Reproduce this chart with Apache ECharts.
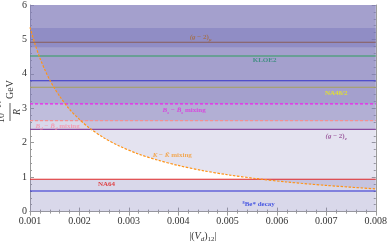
<!DOCTYPE html>
<html><head><meta charset="utf-8">
<script src="https://cdn.jsdelivr.net/npm/echarts@6.0.0/dist/echarts.min.js"></script>
<style>html,body{margin:0;padding:0;background:#fff}#c{width:390px;height:248px}</style>
</head><body><div id="c"></div>
<script>
// ---- data ----
const xRange = [0.001, 0.008];
const yRange = [0, 6];
// K - Kbar mixing boundary (upper limit curve)
const kMixX = [0.0010,0.0011,0.0012,0.0013,0.0014,0.0015,0.0016,0.0018,0.0020,0.0022,0.0025,0.0028,0.0032,0.0036,0.0040,0.0045,0.0050,0.0056,0.0062,0.0070,0.0080];
const kMixY = [5.35,4.87,4.46,4.12,3.82,3.57,3.35,2.97,2.68,2.43,2.14,1.91,1.67,1.49,1.34,1.19,1.07,0.955,0.86,0.76,0.66];
// horizontal constraint lines
const hLineKeys   = ['gm2mu','kloe2','blue','na48','bs','bd','gm2e','na64','be8'];
const hLineValues = [4.92, 4.52, 3.80, 3.61, 3.13, 2.64, 2.39, 0.94, 0.60];
// excluded regions (shaded): [from, to]
const excludedAbove = [2.39, 2.64, 3.13];   // (g-2)e, Bd mixing, Bs mixing
const excludedBelow = [0.94];               // NA64
const gm2muBand = [4.77, 5.33];

// ---- styles ----
const serif = '"Liberation Serif","DejaVu Serif",serif';
const lineStyles = {
  gm2mu:{color:'#8a5c58',width:1.1,type:'solid'},
  kloe2:{color:'#2e9e5e',width:1.1,type:'solid'},
  blue:{color:'#3434c8',width:1.1,type:'solid'},
  na48:{color:'#a9a25a',width:1.1,type:'solid'},
  bs:{color:'#f020f0',width:1.2,type:[3,2]},
  bd:{color:'#f59090',width:1.2,type:[3,2]},
  gm2e:{color:'#8a4aa0',width:1.3,type:'solid'},
  na64:{color:'#e02626',width:1.1,type:'solid'},
  be8:{color:'#2a2ad0',width:1.1,type:'solid'}
};
const shade = 'rgba(128,125,185,0.3)';

const labels = [
  {text:'{i|(g}{n| − 2)}{s|μ}', x:0.004454, y:5.07, color:'#a86a36'},
  {text:'{n|KLOE2}', x:0.00575, y:4.40, color:'#2a8a72'},
  {text:'{n|NA48/2}', x:0.0072, y:3.44, color:'#eeee10'},
  {text:'{i|B}{s|s}{n| − }{i|B\u0304}{s|s}{n| mixing}', x:0.00412, y:2.94, color:'#e030e0'},
  {text:'{i|B}{s|d}{n| − }{i|B\u0304}{s|d}{n| mixing}', x:0.00156, y:2.47, color:'#f890a8'},
  {text:'{i|(g}{n| − 2)}{s|e}', x:0.0072, y:2.19, color:'#8a3a8a'},
  {text:'{i|K}{n| − }{i|K\u0304}{n| mixing}', x:0.00388, y:1.64, color:'#f59a30'},
  {text:'{n|NA64}', x:0.00255, y:0.81, color:'#e01818'},
  {text:'{n|⁸Be* decay}', x:0.00563, y:0.22, color:'#2438e0'}
];

const rich = {
  n:{fontFamily:serif,fontWeight:'bold',fontSize:7,lineHeight:10,verticalAlign:'middle'},
  i:{fontFamily:serif,fontWeight:'bold',fontStyle:'italic',fontSize:7,lineHeight:10,verticalAlign:'middle'},
  s:{fontFamily:serif,fontWeight:'bold',fontStyle:'italic',fontSize:5,lineHeight:6,verticalAlign:'bottom'}
};

const series = [];
const areas = [];
excludedAbove.forEach(v=>areas.push([{yAxis:v,itemStyle:{color:shade}},{yAxis:yRange[1]}]));
excludedBelow.forEach(v=>areas.push([{yAxis:yRange[0],itemStyle:{color:shade}},{yAxis:v}]));
areas.push([{yAxis:gm2muBand[0],itemStyle:{color:'rgba(100,100,180,0.35)'}},{yAxis:gm2muBand[1]}]);
series.push({type:'line',data:[],silent:true,markArea:{silent:true,data:areas,label:{show:false}},z:1});
// K mixing excluded region (above curve)
series.push({type:'line',data:kMixX.map((x,i)=>[x,kMixY[i]]),smooth:0.3,symbol:'none',
  lineStyle:{width:0,opacity:0},
  areaStyle:{origin:'end',color:shade},z:2,silent:true});
hLineKeys.forEach((k,i)=>{
  series.push({type:'line',symbol:'none',silent:true,z:3,
    data:[[xRange[0],hLineValues[i]],[xRange[1],hLineValues[i]]],
    lineStyle:lineStyles[k]});
});
// orange curve above lines
series.push({type:'line',data:kMixX.map((x,i)=>[x,kMixY[i]]),smooth:0.3,symbol:'none',
  lineStyle:{color:'#ff9418',width:1.2,type:[2.5,1.5]},z:4,silent:true});
labels.forEach(l=>{
  series.push({type:'scatter',symbolSize:0,silent:true,z:5,data:[[l.x,l.y]],
    label:{show:true,position:'inside',color:l.color,formatter:l.text,rich:rich}});
});

const axisCommon = {
  axisLine:{show:true,lineStyle:{color:'#9a9a9a',width:1}},
  axisTick:{show:true,inside:true,length:4,lineStyle:{color:'#9a9a9a'}},
  minorTick:{show:true,splitNumber:5,length:2,lineStyle:{color:'#9a9a9a'}},
  splitLine:{show:false}
};
const tickFont = {fontFamily:serif,fontSize:10,color:'#333'};

const option = {
  animation:false,
  grid:{left:30,right:12,top:5,bottom:27},
  xAxis:[
    Object.assign({type:'value',min:xRange[0],max:xRange[1],interval:0.001,position:'bottom',
      axisLabel:Object.assign({margin:5,formatter:v=>v.toFixed(3)},tickFont),
      name:'{t||(}{i|V}{s|d}{t|)}{s2|12}{t||}',nameLocation:'middle',nameGap:18,
      nameTextStyle:{rich:{
        t:{fontFamily:serif,fontSize:10,color:'#333',lineHeight:13,verticalAlign:'middle'},
        i:{fontFamily:serif,fontStyle:'italic',fontSize:10,color:'#333',lineHeight:13,verticalAlign:'middle'},
        s:{fontFamily:serif,fontStyle:'italic',fontSize:7,color:'#333',lineHeight:8,verticalAlign:'bottom'},
        s2:{fontFamily:serif,fontSize:7,color:'#333',lineHeight:8,verticalAlign:'bottom'}}}
    },axisCommon),
    Object.assign({type:'value',min:xRange[0],max:xRange[1],interval:0.001,position:'top',
      axisLabel:{show:false}},axisCommon)
  ],
  yAxis:[
    Object.assign({type:'value',min:yRange[0],max:yRange[1],interval:1,position:'left',
      axisLabel:Object.assign({margin:3},tickFont)},axisCommon),
    Object.assign({type:'value',min:yRange[0],max:yRange[1],interval:1,position:'right',
      axisLabel:{show:false}},axisCommon)
  ],
  graphic:[{
    type:'group',x:11,y:112,rotation:Math.PI/2,
    children:[
      {type:'text',x:0,y:-5,style:{text:'10⁻¹⁴',font:'10px '+serif,fill:'#333',align:'center',verticalAlign:'bottom'}},
      {type:'line',shape:{x1:-9,y1:-1,x2:9,y2:-1},style:{stroke:'#333',lineWidth:0.8}},
      {type:'text',x:0,y:1,style:{text:'R',font:'italic 10px '+serif,fill:'#333',align:'center',verticalAlign:'top'}},
      {type:'text',x:13,y:-1,style:{text:'GeV',font:'10px '+serif,fill:'#333',align:'left',verticalAlign:'middle'}}
    ]
  }],
  series:series
};
const chart = echarts.init(document.getElementById('c'),null,{renderer:'canvas'});
chart.setOption(option);
</script></body></html>
